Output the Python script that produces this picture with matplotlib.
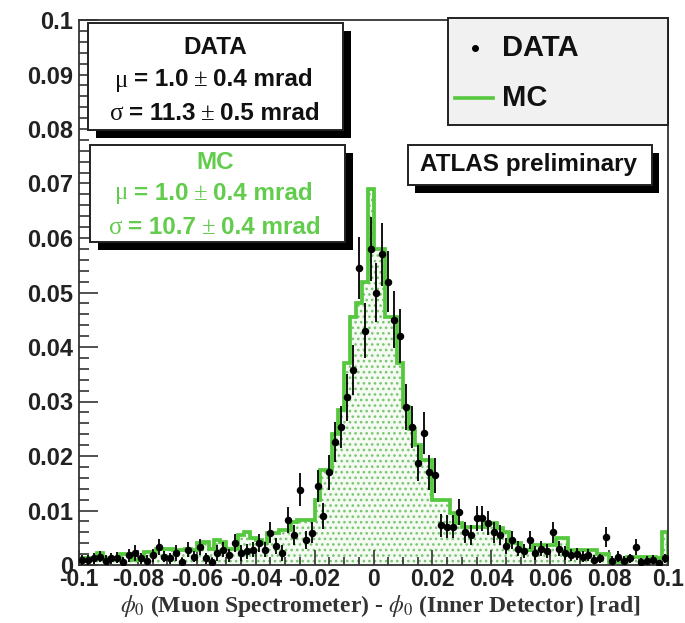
import numpy as np
import matplotlib
matplotlib.use("Agg")
import matplotlib.pyplot as plt
from matplotlib.patches import Rectangle
from matplotlib.lines import Line2D
from matplotlib.ticker import FixedLocator, MultipleLocator, FixedFormatter
from matplotlib.offsetbox import TextArea, HPacker, AnnotationBbox

# ---------------- data ----------------
x_range = (-0.1, 0.1)
n_bins = 100

mc_values = [
    0.0013, 0.0013, 0.0013, 0.0022, 0.0013, 0.0013, 0.0013, 0.0020, 0.0020, 0.0010,
    0.0010, 0.0024, 0.0024, 0.0030, 0.0030, 0.0030, 0.0028, 0.0028, 0.0030, 0.0028,
    0.0040, 0.0042, 0.0030, 0.0045, 0.0042, 0.0030, 0.0030, 0.0055, 0.0060, 0.0050,
    0.0046, 0.0040, 0.0058, 0.0059, 0.0064, 0.0064, 0.0079, 0.0083, 0.0083, 0.0083,
    0.0120, 0.0174, 0.0174, 0.0240, 0.0284, 0.0370, 0.0455, 0.0480, 0.0520, 0.0690,
    0.0580, 0.0580, 0.0455, 0.0455, 0.0370, 0.0290, 0.0250, 0.0220, 0.0193, 0.0193,
    0.0120, 0.0120, 0.0120, 0.0095, 0.0077, 0.0070, 0.0070, 0.0070, 0.0070, 0.0077,
    0.0077, 0.0068, 0.0060, 0.0040, 0.0040, 0.0028, 0.0028, 0.0037, 0.0037, 0.0037,
    0.0037, 0.0050, 0.0050, 0.0028, 0.0028, 0.0028, 0.0028, 0.0028, 0.0020, 0.0020,
    0.0005, 0.0005, 0.0005, 0.0015, 0.0015, 0.0015, 0.0015, 0.0015, 0.0013, 0.0060,
]

data_values = [
    0.0009, 0.0009, 0.0012, 0.0015, 0.0008, 0.0012, 0.0013, 0.0006, 0.0018, 0.0022,
    0.0012, 0.0008, 0.0018, 0.0033, 0.0015, 0.0012, 0.0022, 0.0005, 0.0028, 0.0015,
    0.0033, 0.0012, 0.0005, 0.0022, 0.0028, 0.0018, 0.0040, 0.0022, 0.0025, 0.0028,
    0.0040, 0.0028, 0.0059, 0.0035, 0.0022, 0.0083, 0.0055, 0.0138, 0.0046, 0.0059,
    0.0145, 0.0090, 0.0170, 0.0226, 0.0253, 0.0308, 0.0358, 0.0545, 0.0430, 0.0580,
    0.0500, 0.0570, 0.0520, 0.0450, 0.0420, 0.0290, 0.0253, 0.0187, 0.0242, 0.0170,
    0.0165, 0.0073, 0.0070, 0.0070, 0.0097, 0.0060, 0.0055, 0.0086, 0.0086, 0.0077,
    0.0060, 0.0055, 0.0035, 0.0046, 0.0030, 0.0025, 0.0046, 0.0022, 0.0030, 0.0025,
    0.0060, 0.0030, 0.0022, 0.0018, 0.0020, 0.0015, 0.0018, 0.0010, 0.0012, 0.0051,
    0.0008, 0.0015, 0.0008, 0.0012, 0.0033, 0.0006, 0.0008, 0.0010, 0.0004, 0.0012,
]

data_errors = [
    0.0010, 0.0010, 0.0010, 0.0010, 0.0010, 0.0010, 0.0010, 0.0008, 0.0012, 0.0014,
    0.0010, 0.0010, 0.0012, 0.0014, 0.0010, 0.0010, 0.0014, 0.0008, 0.0014, 0.0010,
    0.0014, 0.0010, 0.0008, 0.0014, 0.0014, 0.0012, 0.0016, 0.0014, 0.0014, 0.0014,
    0.0016, 0.0014, 0.0019, 0.0015, 0.0014, 0.0024, 0.0019, 0.0030, 0.0017, 0.0019,
    0.0030, 0.0024, 0.0032, 0.0037, 0.0039, 0.0043, 0.0046, 0.0057, 0.0050, 0.0058,
    0.0055, 0.0058, 0.0056, 0.0052, 0.0050, 0.0042, 0.0039, 0.0033, 0.0038, 0.0032,
    0.0032, 0.0021, 0.0021, 0.0021, 0.0024, 0.0019, 0.0018, 0.0023, 0.0023, 0.0022,
    0.0019, 0.0018, 0.0015, 0.0017, 0.0014, 0.0013, 0.0017, 0.0012, 0.0014, 0.0013,
    0.0019, 0.0014, 0.0012, 0.0011, 0.0011, 0.0010, 0.0011, 0.0008, 0.0009, 0.0018,
    0.0008, 0.0010, 0.0008, 0.0009, 0.0015, 0.0007, 0.0008, 0.0008, 0.0006, 0.0009,
]

y_ticks = [0.0, 0.01, 0.02, 0.03, 0.04, 0.05, 0.06, 0.07, 0.08, 0.09, 0.1]
y_tick_labels = ["0", "0.01", "0.02", "0.03", "0.04", "0.05", "0.06", "0.07", "0.08", "0.09", "0.1"]
x_ticks = [-0.1, -0.08, -0.06, -0.04, -0.02, 0.0, 0.02, 0.04, 0.06, 0.08, 0.1]
x_tick_labels = ["-0.1", "-0.08", "-0.06", "-0.04", "-0.02", "0", "0.02", "0.04", "0.06", "0.08", "0.1"]

x_title = r"$\phi_{0}$ (Muon Spectrometer) - $\phi_{0}$ (Inner Detector) [rad]"
data_box_title = "DATA"
data_box_mu = ["\u03bc", "= 1.0", "\u00b1", "0.4 mrad"]
data_box_sigma = ["\u03c3", "= 11.3", "\u00b1", "0.5 mrad"]
mc_box_title = "MC"
mc_box_mu = ["\u03bc", "= 1.0", "\u00b1", "0.4 mrad"]
mc_box_sigma = ["\u03c3", "= 10.7", "\u00b1", "0.4 mrad"]
legend_labels = ["DATA", "MC"]
atlas_label = "ATLAS preliminary"

# ---------------- style ----------------
W, H = 685, 623
GREEN = "#55c83e"
TEXT_GREEN = "#62cc4c"
plt.rcParams["mathtext.fontset"] = "stix"
plt.rcParams["hatch.color"] = "#79c672"
plt.rcParams["hatch.linewidth"] = 1.1
SANS = ["Liberation Sans", "DejaVu Sans"]
SERIF = ["Liberation Serif", "DejaVu Serif"]

fig = plt.figure(figsize=(W / 100, H / 100), dpi=100)
fig.patch.set_facecolor("white")


def fx(px):
    return px / W


def fy(py):
    return 1 - py / H


ax = fig.add_axes([fx(79), fy(565), (668 - 79) / W, (565 - 20) / H])
ax.set_xlim(*x_range)
ax.set_ylim(0, 0.1)

edges = np.linspace(x_range[0], x_range[1], n_bins + 1)
centers = 0.5 * (edges[:-1] + edges[1:])

ax.stairs(mc_values, edges, fill=True, facecolor="#f5fbf2", edgecolor="#79c672",
          hatch="...", linewidth=0, zorder=1)
ax.stairs(mc_values, edges, color=GREEN, linewidth=2.7, zorder=2)
ax.errorbar(centers, data_values, yerr=data_errors, fmt="o", color="black",
            ms=4.4, elinewidth=1.3, capsize=0, zorder=3)

for s in ax.spines.values():
    s.set_color("#333333")
    s.set_linewidth(1.3)

ax.yaxis.set_major_locator(FixedLocator(y_ticks))
ax.yaxis.set_major_formatter(FixedFormatter(y_tick_labels))
ax.yaxis.set_minor_locator(MultipleLocator(0.002))
ax.xaxis.set_major_locator(FixedLocator(x_ticks))
ax.xaxis.set_major_formatter(FixedFormatter(x_tick_labels))
ax.xaxis.set_minor_locator(MultipleLocator(0.005))
ax.tick_params(which="both", direction="in", color="#222222", width=1.1)
ax.tick_params(axis="y", which="major", length=14, pad=4)
ax.tick_params(axis="y", which="minor", length=7)
ax.tick_params(axis="x", which="major", length=11, pad=2)
ax.tick_params(axis="x", which="minor", length=6)
for lab in ax.get_yticklabels():
    lab.set_fontfamily(SANS)
    lab.set_fontweight("bold")
    lab.set_fontsize(17)
    lab.set_color("#222222")
for lab in ax.get_xticklabels():
    lab.set_fontfamily(SANS)
    lab.set_fontweight("bold")
    lab.set_fontsize(16.5)
    lab.set_color("#222222")

fig.text(fx(380), fy(606), x_title, ha="center", va="center", fontsize=17,
         family=SERIF, fontweight="bold", color="#333333")


def shadow_box(x0, y0, x1, y1, dx=8, dy=8, fc="white", shadow=True, lw=1.4):
    if shadow:
        fig.add_artist(Rectangle((fx(x0 + dx), fy(y1 + dy)), (x1 - x0) / W, (y1 - y0) / H,
                                 transform=fig.transFigure, facecolor="black",
                                 edgecolor="none", zorder=5))
    fig.add_artist(Rectangle((fx(x0), fy(y1)), (x1 - x0) / W, (y1 - y0) / H,
                             transform=fig.transFigure, facecolor=fc,
                             edgecolor="#222222", linewidth=lw, zorder=6))


def stat_line(pieces, cx, cy, color):
    kids = []
    for k, t in enumerate(pieces):
        if k % 2 == 0:
            props = dict(family=SERIF, fontsize=18, color=color)
        else:
            props = dict(family=SANS, fontweight="bold", fontsize=17.5, color=color)
        kids.append(TextArea(t, textprops=props))
    pack = HPacker(children=kids, pad=0, sep=4, align="baseline")
    ab = AnnotationBbox(pack, (fx(cx), fy(cy)), xycoords="figure fraction",
                        frameon=False, box_alignment=(0.5, 0.5), pad=0, zorder=7)
    fig.add_artist(ab)


# DATA stats box
shadow_box(88, 23, 343, 130)
fig.text(fx(215), fy(48), data_box_title, ha="center", va="center", fontsize=17.5,
         family=SANS, fontweight="bold", color="#111111", zorder=7)
stat_line(data_box_mu, 214, 80, "#111111")
stat_line(data_box_sigma, 215, 114, "#111111")

# MC stats box
shadow_box(90, 145, 345, 242)
fig.text(fx(215), fy(163), mc_box_title, ha="center", va="center", fontsize=17.5,
         family=SANS, fontweight="bold", color=TEXT_GREEN, zorder=7)
stat_line(mc_box_mu, 214, 193, TEXT_GREEN)
stat_line(mc_box_sigma, 215, 227, TEXT_GREEN)

# Legend
shadow_box(448, 18, 668, 125, fc="#f1f1f1", shadow=False)
fig.add_artist(Line2D([fx(475)], [fy(48)], marker="o", ms=4, color="black",
                      transform=fig.transFigure, zorder=7))
fig.add_artist(Line2D([fx(455), fx(493)], [fy(98), fy(98)], color=GREEN, lw=2.6,
                      transform=fig.transFigure, zorder=7))
fig.text(fx(502), fy(48), legend_labels[0], ha="left", va="center", fontsize=21,
         family=SANS, fontweight="bold", color="#111111", zorder=7)
fig.text(fx(502), fy(98), legend_labels[1], ha="left", va="center", fontsize=21,
         family=SANS, fontweight="bold", color="#111111", zorder=7)

# ATLAS preliminary
shadow_box(408, 145, 652, 185, dx=7, dy=8)
fig.text(fx(528), fy(165), atlas_label, ha="center", va="center", fontsize=17.5,
         family=SANS, fontweight="bold", color="#111111", zorder=7)

fig.savefig("out.png", dpi=100, facecolor="white")
